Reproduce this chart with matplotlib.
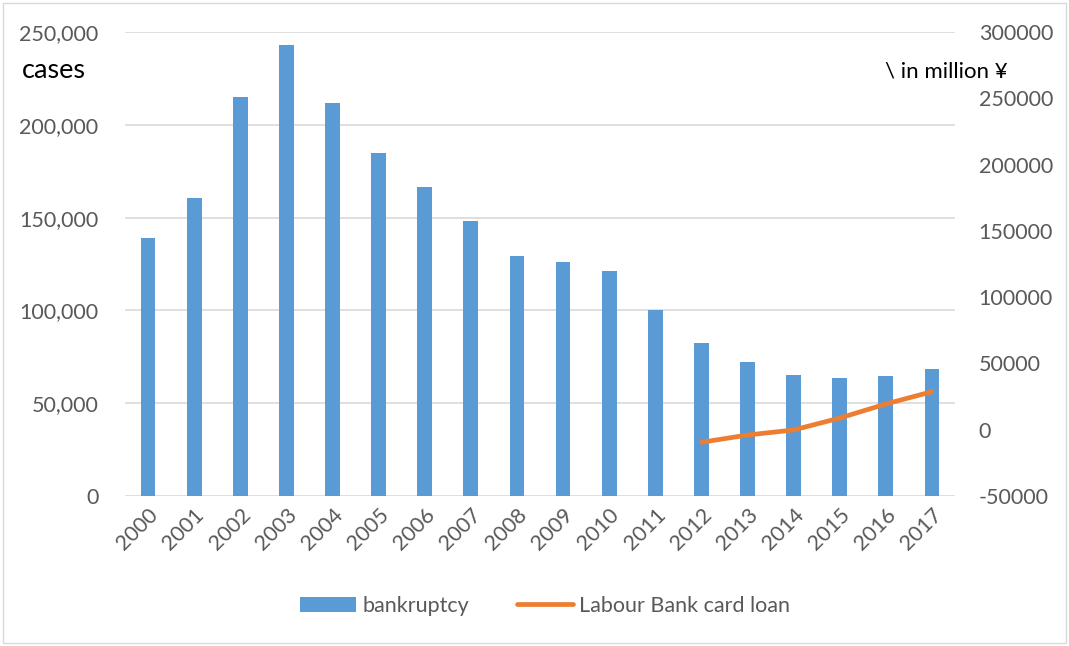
import matplotlib.pyplot as plt
from matplotlib.patches import Rectangle

years = [str(y) for y in range(2000, 2018)]
bankruptcy = [139000, 160500, 215000, 243000, 211700, 184800, 166500, 148200, 129300,
              126100, 121200, 100200, 82600, 72000, 65000, 63600, 64500, 68600]
loan_years = ["2012", "2013", "2014", "2015", "2016", "2017"]
card_loan = [-9500, -4000, -200, 8800, 19400, 28700]

plt.rcParams['font.family'] = ['Lato', 'DejaVu Sans']
plt.rcParams['axes.unicode_minus'] = False
grey = "#595959"

fig = plt.figure(figsize=(10.69, 6.46), dpi=100)
ax = fig.add_axes([125 / 1069, 1 - 496 / 646, 830 / 1069, 464 / 646])
x = list(range(len(years)))
ax.bar(x, bankruptcy, width=0.32, color="#5B9BD5", label="bankruptcy", zorder=2)
ax.set_ylim(0, 250000)
ax.set_yticks(range(0, 250001, 50000))
ax.set_yticklabels([f"{v:,}" for v in range(0, 250001, 50000)])
ax.set_xlim(-0.5, len(years) - 0.5)
ax.set_xticks(x)
ax.set_xticklabels(years, rotation=45, ha="right", rotation_mode="anchor")
ax.grid(True, axis="y", color="#d9d9d9", linewidth=1.2, zorder=0)
ax.set_axisbelow(True)
for s in ax.spines.values():
    s.set_visible(False)
ax.tick_params(length=0, labelsize=15.5, colors=grey)
ax.tick_params(axis="y", pad=19)
ax.tick_params(axis="x", pad=6)

ax2 = ax.twinx()
lx = [years.index(y) for y in loan_years]
ax2.plot(lx, card_loan, color="#ED7D31", linewidth=3.4, solid_capstyle="round",
         label="Labour Bank card loan", zorder=3)
ax2.set_ylim(-50000, 300000)
ax2.set_yticks(range(-50000, 300001, 50000))
for s in ax2.spines.values():
    s.set_visible(False)
ax2.tick_params(length=0, labelsize=15.5, colors=grey, pad=17)

fig.text(22 / 1069, 1 - 70 / 646, "cases", fontsize=19.5, color="black", va="center")
fig.text(885 / 1069, 1 - 72 / 646, "\\ in million ¥", fontsize=16, color="black",
         va="center", family=['Lato', 'DejaVu Sans'])

h1, l1 = ax.get_legend_handles_labels()
h2, l2 = ax2.get_legend_handles_labels()
fig.legend(h1 + h2, l1 + l2, loc="center", bbox_to_anchor=(0.51, 1 - 606 / 646),
           ncol=2, frameon=False, fontsize=15.5, labelcolor=grey,
           handlelength=2.6, columnspacing=2.2, handletextpad=0.3)

fig.patches.append(Rectangle((0.003, 0.004), 0.994, 0.992, transform=fig.transFigure,
                             fill=False, edgecolor="#d9d9d9", linewidth=1))
fig.savefig("out.png", dpi=100)
